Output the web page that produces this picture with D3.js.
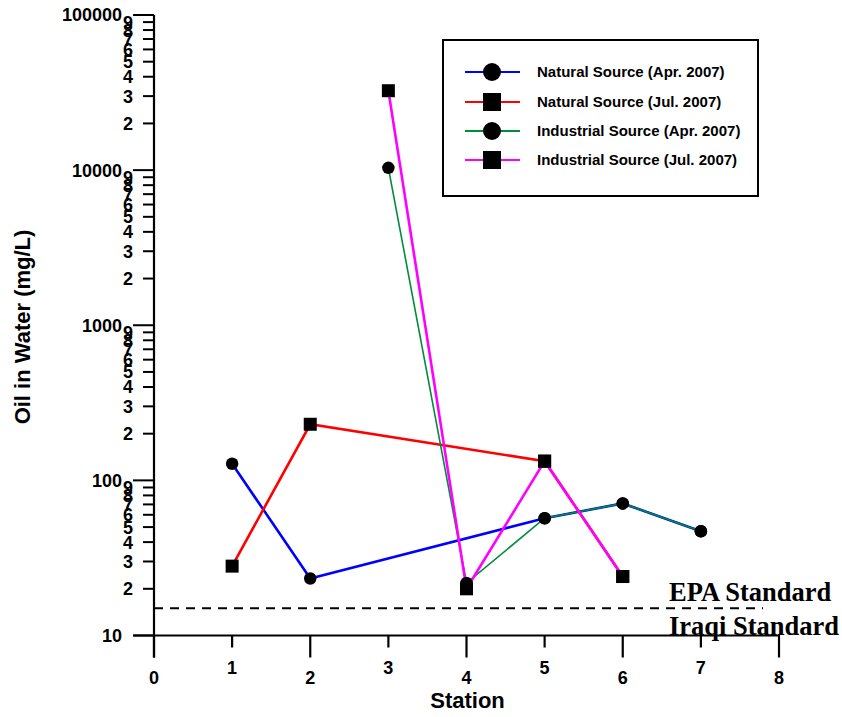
<!DOCTYPE html>
<html>
<head>
<meta charset="utf-8">
<script src="https://cdn.jsdelivr.net/npm/d3@7"></script>
<style>
body{margin:0;background:#fff;}
svg{display:block;}
</style>
</head>
<body>
<svg id="chart" width="842" height="717"></svg>
<script>
// ---- data ----
const seriesNames = ["Natural Source (Apr. 2007)","Natural Source (Jul. 2007)","Industrial Source (Apr. 2007)","Industrial Source (Jul. 2007)"];
const seriesColors = ["#0000ff","#ff0000","#008c3a","#ff00ff"];
const seriesMarkers = ["circle","square","circle","square"];
const naturalAprStations = [1,2,5,6,7];
const naturalAprValues   = [128,23.3,57,71,47];
const naturalJulStations = [1,2,5,6];
const naturalJulValues   = [28,230,133,24];
const industrialAprStations = [3,4,5,6,7];
const industrialAprValues   = [10350,21.8,57,71,47];
const industrialJulStations = [3,4,5,6];
const industrialJulValues   = [32500,20,133,24];
const epaStandard = 15;
const xTicks = [0,1,2,3,4,5,6,7,8];
const yDecades = [10,100,1000,10000,100000];

const series = [
  {st:naturalAprStations, v:naturalAprValues, w:2.6},
  {st:naturalJulStations, v:naturalJulValues, w:2.6},
  {st:industrialAprStations, v:industrialAprValues, w:1.6},
  {st:industrialJulStations, v:industrialJulValues, w:2.6}
].map((s,i)=>({...s, name:seriesNames[i], color:seriesColors[i], marker:seriesMarkers[i]}));

const svg = d3.select("#chart");
const x = d3.scaleLinear().domain([0,8]).range([154,779]);
const y = d3.scaleLog().domain([10,100000]).range([635.5,15]);

const g = svg.append("g");
const SANS = "Liberation Sans, Arial, sans-serif";

// y axis
const yMinor = [];
yDecades.slice(0,4).forEach(d=>{for(let m=2;m<=9;m++) yMinor.push(d*m);});
g.append("line").attr("x1",x(0)).attr("x2",x(0)).attr("y1",y(100000)).attr("y2",y(10)+22)
  .attr("stroke","#000").attr("stroke-width",2.2);
g.selectAll(".ymaj").data(yDecades).join("line")
  .attr("x1",x(0)-21).attr("x2",x(0)).attr("y1",d=>y(d)).attr("y2",d=>y(d))
  .attr("stroke","#000").attr("stroke-width",2);
g.selectAll(".ymin").data(yMinor).join("line")
  .attr("x1",x(0)-11).attr("x2",x(0)).attr("y1",d=>y(d)).attr("y2",d=>y(d))
  .attr("stroke","#000").attr("stroke-width",2);
g.selectAll(".ymajl").data(yDecades).join("text")
  .attr("x",x(0)-32).attr("y",d=>y(d)).attr("dy","0.36em")
  .attr("text-anchor","end").attr("font-family",SANS)
  .attr("font-weight","bold").attr("font-size",18).text(d=>d);
g.selectAll(".yminl").data(yMinor).join("text")
  .attr("x",x(0)-21).attr("y",d=>y(d)).attr("dy","0.36em")
  .attr("text-anchor","end").attr("font-family",SANS)
  .attr("font-weight","bold").attr("font-size",18).text(d=>Math.round(d/Math.pow(10,Math.floor(Math.log10(d)+1e-9))));

// x axis
g.append("line").attr("x1",x(0)-21).attr("x2",x(8)+1).attr("y1",y(10)).attr("y2",y(10))
  .attr("stroke","#000").attr("stroke-width",2.2);
g.selectAll(".xt").data(xTicks).join("line")
  .attr("x1",d=>x(d)).attr("x2",d=>x(d)).attr("y1",y(10))
  .attr("y2",d=>y(10)+(d%2===0?22:12))
  .attr("stroke","#000").attr("stroke-width",2.2);
g.selectAll(".xl").data(xTicks).join("text")
  .attr("x",d=>x(d)).attr("y",d=>y(10)+(d%2===0?48:38))
  .attr("text-anchor","middle").attr("font-family",SANS)
  .attr("font-weight","bold").attr("font-size",18).text(d=>d);

// titles
svg.append("text").attr("transform","translate(30,327) rotate(-90)")
  .attr("text-anchor","middle").attr("font-family",SANS)
  .attr("font-weight","bold").attr("font-size",22).text("Oil in Water (mg/L)");
svg.append("text").attr("x",x(4)+1).attr("y",708)
  .attr("text-anchor","middle").attr("font-family",SANS)
  .attr("font-weight","bold").attr("font-size",22).text("Station");

// EPA line
g.append("line").attr("x1",x(0)).attr("x2",763).attr("y1",y(epaStandard)).attr("y2",y(epaStandard))
  .attr("stroke","#000").attr("stroke-width",2).attr("stroke-dasharray","9,7");
svg.append("text").attr("x",669).attr("y",601).attr("font-family","Liberation Serif, Times New Roman, serif")
  .attr("font-weight","bold").attr("font-size",26.5).text("EPA Standard");
svg.append("text").attr("x",669).attr("y",635).attr("font-family","Liberation Serif, Times New Roman, serif")
  .attr("font-weight","bold").attr("font-size",26.5).text("Iraqi Standard");

// lines
const line = d3.line().x(d=>x(d[0])).y(d=>y(d[1]));
series.forEach(s=>{
  g.append("path").datum(s.st.map((st,k)=>[st,s.v[k]]))
    .attr("d",line).attr("fill","none").attr("stroke",s.color).attr("stroke-width",s.w);
});
// markers
function marker(sel, type, cx, cy, size){
  if(type==="circle"){
    sel.append("circle").attr("cx",cx).attr("cy",cy).attr("r",size/2).attr("fill","#000");
  } else {
    sel.append("rect").attr("x",cx-size/2).attr("y",cy-size/2).attr("width",size).attr("height",size).attr("fill","#000");
  }
}
series.forEach(s=>{
  s.st.forEach((st,k)=>marker(g, s.marker, x(st), y(s.v[k]), s.marker==="circle"?12.5:13));
});

// legend
const lg = svg.append("g");
lg.append("rect").attr("x",443).attr("y",40).attr("width",315).attr("height",156)
  .attr("fill","#fff").attr("stroke","#000").attr("stroke-width",2);
const rowsY = [72,102,131,160];
series.forEach((s,i)=>{
  lg.append("line").attr("x1",465).attr("x2",520).attr("y1",rowsY[i]).attr("y2",rowsY[i])
    .attr("stroke",s.color).attr("stroke-width",2.2);
  marker(lg, s.marker, 492, rowsY[i], 18);
  lg.append("text").attr("x",537).attr("y",rowsY[i]).attr("dy","0.36em")
    .attr("font-family",SANS).attr("font-weight","bold")
    .attr("font-size",15).text(s.name);
});
</script>
</body>
</html>
